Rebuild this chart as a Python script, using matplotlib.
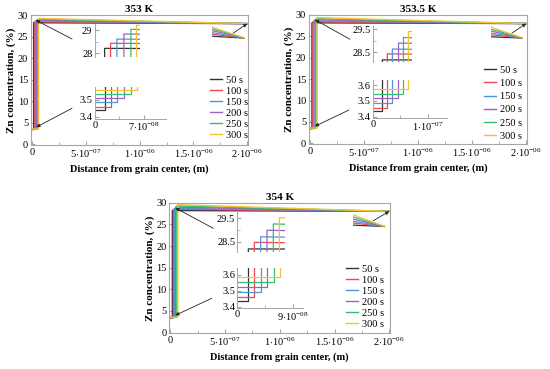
import numpy as np
import matplotlib
matplotlib.use('Agg')
import matplotlib.pyplot as plt
from matplotlib.ticker import FixedLocator

plt.rcParams['font.family'] = ['Liberation Serif', 'DejaVu Serif']
plt.rcParams['mathtext.fontset'] = 'custom'
plt.rcParams['mathtext.rm'] = 'Liberation Serif'
plt.rcParams['mathtext.it'] = 'Liberation Serif:italic'
plt.rcParams['mathtext.bf'] = 'Liberation Serif:bold'

# ---- data ----
times = ['50 s', '100 s', '150 s', '200 s', '250 s', '300 s']
colors = ['#333333', '#ee4a50', '#4e96d8', '#9c62c6', '#33c06a', '#f3c230']

x_end = 2.0e-6          # grain half width, m
c_end = 28.0            # concentration at x_end, %

titles = ['353 K', '353.5 K', '354 K']

# position of the step (m), concentration inside grain, just after the step
step_353 = [1.45e-8, 2.3e-8, 3.2e-8, 4.2e-8, 5.2e-8, 6.0e-8]
low_353 = [3.440, 3.460, 3.484, 3.510, 3.534, 3.560]
high_353 = [28.21, 28.43, 28.61, 28.83, 29.03, 29.21]

step_3535 = [1.76e-8, 2.67e-8, 3.58e-8, 4.7e-8, 5.6e-8, 6.5e-8]
low_3535 = [3.435, 3.458, 3.484, 3.516, 3.543, 3.575]
high_3535 = [28.17, 28.43, 28.64, 28.90, 29.14, 29.40]

step_354 = [1.8e-8, 2.77e-8, 3.8e-8, 4.84e-8, 5.87e-8, 6.85e-8]
low_354 = [3.438, 3.463, 3.493, 3.522, 3.554, 3.585]
high_354 = [28.19, 28.47, 28.71, 28.99, 29.26, 29.53]

steps = [step_353, step_3535, step_354]
lows = [low_353, low_3535, low_354]
highs = [high_353, high_3535, high_354]

xticks_main = [0, 5e-7, 1e-6, 1.5e-6, 2e-6]
xticklabels_main = ['0', r'5$\cdot$10$^{-07}$', r'1$\cdot$10$^{-06}$',
                    r'1.5$\cdot$10$^{-06}$', r'2$\cdot$10$^{-06}$']
yticks_main = [0, 5, 10, 15, 20, 25, 30]

top_yticks = [[28, 29], [28.5, 29.5], [28.5, 29.5]]
top_yminor = [[28.5], [29.0], [29.0]]
bot_yticks = [[3.4, 3.5], [3.4, 3.5, 3.6], [3.4, 3.5, 3.6]]
bot_xticks = [[0, 7e-8], [0, 1e-7], [0, 9e-8]]
bot_xticklabels = [['0', r'7$\cdot$10$^{-08}$'], ['0', r'1$\cdot$10$^{-07}$'],
                   ['0', r'9$\cdot$10$^{-08}$']]
bot_xminor = [[3.5e-8], [5e-8], [4.5e-8]]

# ---- layout in pixels (left, top, right, bottom) ----
W, H = 550, 369
layout = [
    dict(main=(31, 15, 248, 145), top=(94.5, 24, 140, 56.7), bot=(95, 87, 165.7, 119),
         right=(212, 26, 245, 39), top_x=6.5e-8, bot_x=1.02e-7,
         top_y=(27.85, 29.26), bot_y=(3.386, 3.576),
         arr=[((72, 39), (0.035e-6, 28.8)), ((72, 108.3), (0.04e-6, 4.0)), ((233, 33.3), (2e-6, 28.0))],
         leg=(248, 140), lsp=0.17),
    dict(main=(309, 15, 527, 144), top=(372.7, 26, 411.7, 61.7), bot=(372.7, 80, 446.7, 118.3),
         right=(491, 26, 523.3, 39), top_x=7.1e-8, bot_x=1.35e-7,
         top_y=(28.09, 29.64), bot_y=(3.39, 3.632),
         arr=[((350, 39.3), (0.045e-6, 28.9)), ((349, 110), (0.045e-6, 4.0)), ((512, 33), (2e-6, 28.0))],
         leg=(522, 141), lsp=0.38),
    dict(main=(169.3, 202.7, 390, 333.3), top=(237.3, 212.3, 285, 251.7), bot=(237.3, 268.3, 303.3, 308.3),
         right=(352.7, 213.5, 385, 227.5), top_x=7.77e-8, bot_x=1.07e-7,
         top_y=(28.07, 29.76), bot_y=(3.39, 3.642),
         arr=[((213.3, 228.3), (0.045e-6, 28.8)), ((211.7, 298.3), (0.045e-6, 4.0)), ((373.3, 220.7), (2e-6, 28.0))],
         leg=(384, 329), lsp=0.17),
]

frame_col = '#a6a6a6'


def rect(box):
    l, t, r, b = box
    return [l / W, 1 - b / H, (r - l) / W, (b - t) / H]


def profile(s, lo, hi):
    return [0, s, s, x_end], [lo, lo, hi, c_end]


def style_inset(ax, show_bottom):
    for sp in ['top', 'right']:
        ax.spines[sp].set_visible(False)
    ax.spines['left'].set_color(frame_col)
    ax.spines['left'].set_linewidth(0.7)
    if show_bottom:
        ax.spines['bottom'].set_color(frame_col)
        ax.spines['bottom'].set_linewidth(0.7)
    else:
        ax.spines['bottom'].set_visible(False)
        ax.set_xticks([])
    ax.patch.set_alpha(0)
    ax.tick_params(which='both', direction='in', color=frame_col, labelsize=7.5, pad=1.5)
    ax.tick_params(which='major', length=3)
    ax.tick_params(which='minor', length=2)


fig = plt.figure(figsize=(W / 100, H / 100), dpi=100)

for k in range(3):
    L = layout[k]
    ax = fig.add_axes(rect(L['main']))
    for i in range(6):
        xs, ys = profile(steps[k][i], lows[k][i], highs[k][i])
        ax.plot(xs, ys, color=colors[i], lw=1.0, label=times[i])
    ax.set_xlim(-0.01e-6, 2.007e-6)
    ax.set_ylim(-0.15, 30.0)
    ax.set_xticks(xticks_main)
    ax.set_xticklabels(xticklabels_main)
    ax.xaxis.set_minor_locator(FixedLocator([2.5e-7, 7.5e-7, 1.25e-6, 1.75e-6]))
    ax.set_yticks(yticks_main)
    for sp in ax.spines.values():
        sp.set_color(frame_col)
        sp.set_linewidth(0.8)
    ax.tick_params(which='both', direction='in', color=frame_col, labelsize=7.5, pad=2)
    ax.tick_params(which='major', length=3)
    ax.tick_params(which='minor', length=2)
    ax.set_title(titles[k], fontsize=8, fontweight='bold', pad=2)
    ax.set_xlabel('Distance from grain center, (m)', fontsize=7.5, fontweight='bold', labelpad=3)
    ax.set_ylabel('Zn concentration, (%)', fontsize=8, fontweight='bold', labelpad=1)

    lx, ly = L['leg']
    ax.legend(loc='lower right', bbox_to_anchor=(lx / W, 1 - ly / H),
              bbox_transform=fig.transFigure, frameon=False, fontsize=7.5,
              handlelength=1.1, handletextpad=0.4, labelspacing=L['lsp'],
              borderaxespad=0, borderpad=0)

    for (tx, ty), (hx, hy) in L['arr']:
        ax.annotate('', xy=(hx, hy), xycoords='data',
                    xytext=(tx / W, 1 - ty / H), textcoords='figure fraction',
                    arrowprops=dict(arrowstyle='-|>', color='#222222', lw=0.6,
                                    mutation_scale=5, shrinkA=0, shrinkB=0),
                    annotation_clip=False)

    # zoom at the grain boundary (top)
    axt = fig.add_axes(rect(L['top']))
    for i in range(6):
        xs, ys = profile(steps[k][i], lows[k][i], highs[k][i])
        axt.plot(xs, ys, color=colors[i], lw=0.9)
    axt.set_xlim(0, L['top_x'])
    axt.set_ylim(*L['top_y'])
    style_inset(axt, False)
    axt.set_yticks(top_yticks[k])
    axt.yaxis.set_minor_locator(FixedLocator(top_yminor[k]))

    # zoom at the grain interior (bottom)
    axb = fig.add_axes(rect(L['bot']))
    for i in range(6):
        xs, ys = profile(steps[k][i], lows[k][i], highs[k][i])
        axb.plot(xs, ys, color=colors[i], lw=0.9)
    axb.set_xlim(0, L['bot_x'])
    axb.set_ylim(*L['bot_y'])
    style_inset(axb, True)
    axb.set_yticks(bot_yticks[k])
    axb.set_xticks(bot_xticks[k])
    axb.set_xticklabels(bot_xticklabels[k])
    axb.xaxis.set_minor_locator(FixedLocator(bot_xminor[k]))

    # zoom at the far end of the profile
    axr = fig.add_axes(rect(L['right']))
    xa = 1.85e-6
    ya = []
    for i in range(6):
        xs, ys = profile(steps[k][i], lows[k][i], highs[k][i])
        axr.plot(xs, ys, color=colors[i], lw=0.9)
        ya.append(np.interp(xa, xs, ys))
    span = max(ya) - c_end
    axr.set_xlim(xa, x_end)
    axr.set_ylim(c_end - 0.08 * span, max(ya) + 0.1 * span)
    axr.axis('off')

fig.savefig('out.png', dpi=100)
